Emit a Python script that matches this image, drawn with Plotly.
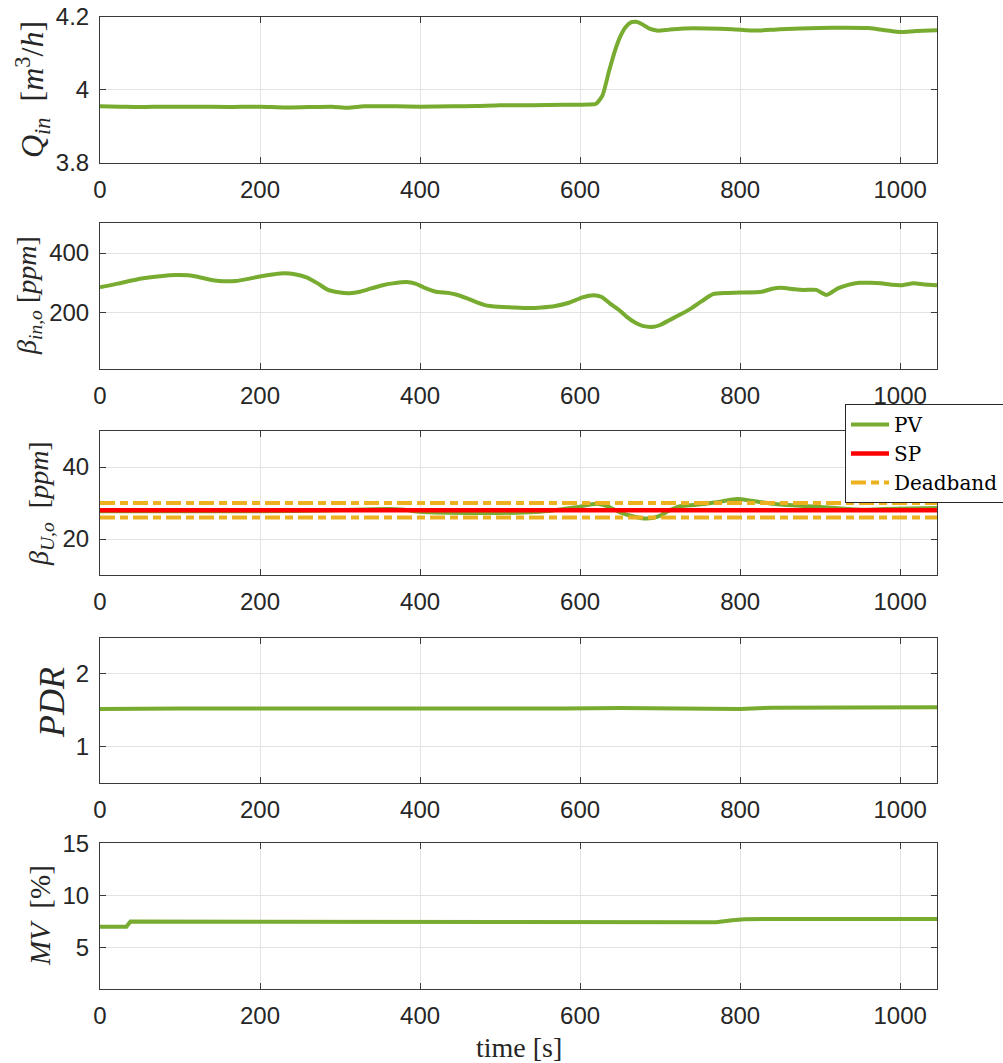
import plotly.graph_objects as go

# ---- data -------------------------------------------------------------
# inlet flow Q_in [m^3/h]
t_q = [0, 25, 50, 80, 120, 160, 200, 230, 260, 290, 310, 330, 370, 400, 440,
       470, 500, 540, 580, 610, 620, 628, 636, 644, 650, 657, 664, 670, 677,
       686, 696, 710, 730, 760, 790, 820, 850, 900, 930, 960, 985, 1000, 1020, 1046]
q_in = [3.955, 3.954, 3.953, 3.954, 3.954, 3.953, 3.954, 3.952, 3.953, 3.954,
        3.951, 3.955, 3.955, 3.954, 3.955, 3.956, 3.958, 3.958, 3.959, 3.960,
        3.962, 3.985, 4.050, 4.110, 4.145, 4.172, 4.185, 4.186, 4.180, 4.168,
        4.162, 4.164, 4.168, 4.168, 4.166, 4.162, 4.166, 4.169, 4.170, 4.169,
        4.162, 4.158, 4.161, 4.163]

# inlet oil concentration beta_in,o [ppm]
t_bin = [0, 14, 30, 54, 75, 95, 110, 122, 135, 149, 170, 185, 203, 218, 230,
         245, 258, 272, 285, 298, 312, 325, 339, 352, 366, 386, 395, 405, 420,
         435, 447, 462, 481, 498, 515, 536, 552, 569, 585, 603, 617, 627, 637,
         648, 658, 668, 678, 692, 700, 712, 725, 739, 752, 766, 783, 800, 827,
         840, 851, 868, 880, 895, 908, 922, 935, 949, 962, 976, 990, 1003, 1017,
         1030, 1046]
beta_in = [285, 292, 302, 315, 322, 326, 325, 320, 312, 306, 306, 313, 323, 329,
           332, 328, 318, 298, 276, 268, 265, 270, 281, 291, 298, 302, 296, 284,
           270, 266, 259, 244, 225, 219, 217, 215, 217, 222, 232, 251, 258, 252,
           231, 210, 186, 167, 155, 152, 158, 175, 193, 214, 238, 262, 266, 267,
           270, 280, 283, 278, 276, 276, 259, 281, 293, 300, 300, 298, 293, 292,
           298, 294, 292]

# underflow oil concentration beta_U,o [ppm]: process value, set point, deadband
t_bu = [0, 100, 200, 280, 330, 360, 380, 400, 440, 480, 520, 550, 575, 595,
        621, 635, 650, 668, 683, 698, 712, 725, 745, 770, 796, 815, 840, 870,
        900, 930, 955, 980, 1010, 1046]
beta_u_pv = [27.7, 27.7, 27.7, 27.9, 28.2, 28.3, 28.1, 27.6, 27.3, 27.2, 27.3,
             27.6, 28.2, 28.8, 29.8, 29.0, 27.4, 26.2, 25.7, 26.3, 28.0, 29.1,
             29.5, 30.2, 31.1, 30.6, 29.8, 29.3, 28.9, 28.4, 28.1, 28.3, 28.5, 28.6]
t_sp = [0, 1046]
beta_u_sp = [28, 28]
deadband_hi = [30, 30]
deadband_lo = [26, 26]

# pressure drop ratio
t_pdr = [0, 40, 100, 200, 300, 400, 500, 580, 650, 700, 760, 800, 840, 900, 1000, 1046]
pdr = [1.515, 1.520, 1.525, 1.525, 1.522, 1.527, 1.522, 1.524, 1.530, 1.528,
       1.522, 1.518, 1.535, 1.540, 1.542, 1.542]

# manipulated variable [%]
t_mv = [0, 33, 38, 680, 690, 770, 790, 805, 830, 1046]
mv = [7.0, 7.0, 7.5, 7.5, 7.42, 7.42, 7.62, 7.72, 7.75, 7.75]

x_ticks = [0, 200, 400, 600, 800, 1000]
y_ticks = [[3.8, 4.0, 4.2], [200, 400], [20, 40], [1, 2], [5, 10, 15]]
y_ticktext = [["3.8", "4", "4.2"], ["200", "400"], ["20", "40"], ["1", "2"],
              ["5", "10", "15"]]
y_ranges = [[3.8, 4.2], [10, 500], [10, 50], [0.5, 2.5], [1, 15]]
y_titles = [
    "<i>Q</i><sub><i>in</i></sub>  [<i>m</i><sup>3</sup>/<i>h</i>]",
    "<i>β</i><sub><i>in,o</i></sub> [<i>ppm</i>]",
    "<i>β</i><sub><i>U,o</i></sub>  [<i>ppm</i>]",
    "<i>PDR</i>",
    "<i>MV</i>  [%]",
]

# ---- styling ----------------------------------------------------------
W, H = 1003, 1063
GREEN = "#77AC30"
RED = "#FF0000"
ORANGE = "#EDB120"
AXC = "#3a3a3a"
GRID = "#e3e3e3"
SERIF = "Liberation Serif, DejaVu Serif, serif"
SANS = "Liberation Sans, Arial, sans-serif"

# panel pixel boxes (top, bottom)
panel_px = [(16.7, 163), (223.3, 369), (431, 575), (637.7, 782.7), (843.3, 989.3)]
x_left, x_right = 100, 937
title_x = [33, 28, 40, 52, 40]
title_y = [90, 296, 504, 703, 916]
title_size = [32, 28, 28, 36, 29]

fig = go.Figure()


def line(x, y, color, width, axis, name=None, dash=None, shape="spline",
         showlegend=False):
    fig.add_trace(go.Scatter(
        x=x, y=y, mode="lines", name=name, showlegend=showlegend,
        line=dict(color=color, width=width, dash=dash, shape=shape,
                  **({"smoothing": 0.6} if shape == "spline" else {})),
        xaxis="x" + axis, yaxis="y" + axis, hoverinfo="skip"))


line(t_q, q_in, GREEN, 4, "")
line(t_bin, beta_in, GREEN, 4, "2")
line(t_bu, beta_u_pv, GREEN, 4, "3", name="PV", showlegend=True)
line(t_sp, beta_u_sp, RED, 4.5, "3", name="SP", shape="linear", showlegend=True)
dd = "15px,5px,8px,5px"
line(t_sp, deadband_hi, ORANGE, 4, "3", name="Deadband", dash=dd,
     shape="linear", showlegend=True)
line(t_sp, deadband_lo, ORANGE, 4, "3", dash=dd, shape="linear")
line(t_pdr, pdr, GREEN, 4, "4", shape="linear")
line(t_mv, mv, GREEN, 4, "5", shape="linear")

layout = dict(
    width=W, height=H,
    margin=dict(l=0, r=0, t=0, b=0, autoexpand=False),
    paper_bgcolor="white", plot_bgcolor="white",
    showlegend=True,
    legend=dict(
        x=845 / W, y=1 - 404 / H, xanchor="left", yanchor="top",
        bgcolor="white", bordercolor="#262626", borderwidth=1,
        font=dict(family="DejaVu Serif, serif", size=20, color="black"),
        tracegroupgap=0, itemwidth=38,
    ),
    annotations=[],
)

for i, (top, bot) in enumerate(panel_px):
    sfx = "" if i == 0 else str(i + 1)
    anchor = "y" + sfx
    common = dict(
        ticks="inside", ticklen=6, tickcolor=AXC, tickwidth=1,
        showline=True, linecolor=AXC, linewidth=1, mirror="ticks",
        showgrid=True, gridcolor=GRID, gridwidth=1, zeroline=False,
        tickfont=dict(family=SANS, size=24, color="#262626"),
        ticklabelstandoff=5, automargin=False,
    )
    layout["xaxis" + sfx] = dict(
        domain=[x_left / W, x_right / W], anchor=anchor,
        range=[0, 1046], tickvals=x_ticks, **common,
    )
    layout["yaxis" + sfx] = dict(
        domain=[1 - bot / H, 1 - top / H], anchor="x" + sfx,
        range=y_ranges[i], tickvals=y_ticks[i], ticktext=y_ticktext[i],
        **common,
    )
    layout["annotations"].append(dict(
        text=y_titles[i], xref="paper", yref="paper",
        x=title_x[i] / W, y=1 - title_y[i] / H,
        xanchor="center", yanchor="middle", textangle=-90, showarrow=False,
        font=dict(family=SERIF, size=title_size[i], color="#262626"),
    ))

layout["annotations"].append(dict(
    text="time [s]", xref="paper", yref="paper",
    x=(x_left + x_right) / 2 / W, y=1 - 1047 / H,
    xanchor="center", yanchor="middle", showarrow=False,
    font=dict(family=SERIF, size=28, color="#262626"),
))

fig.update_layout(**layout)
fig.write_html("out.html")
